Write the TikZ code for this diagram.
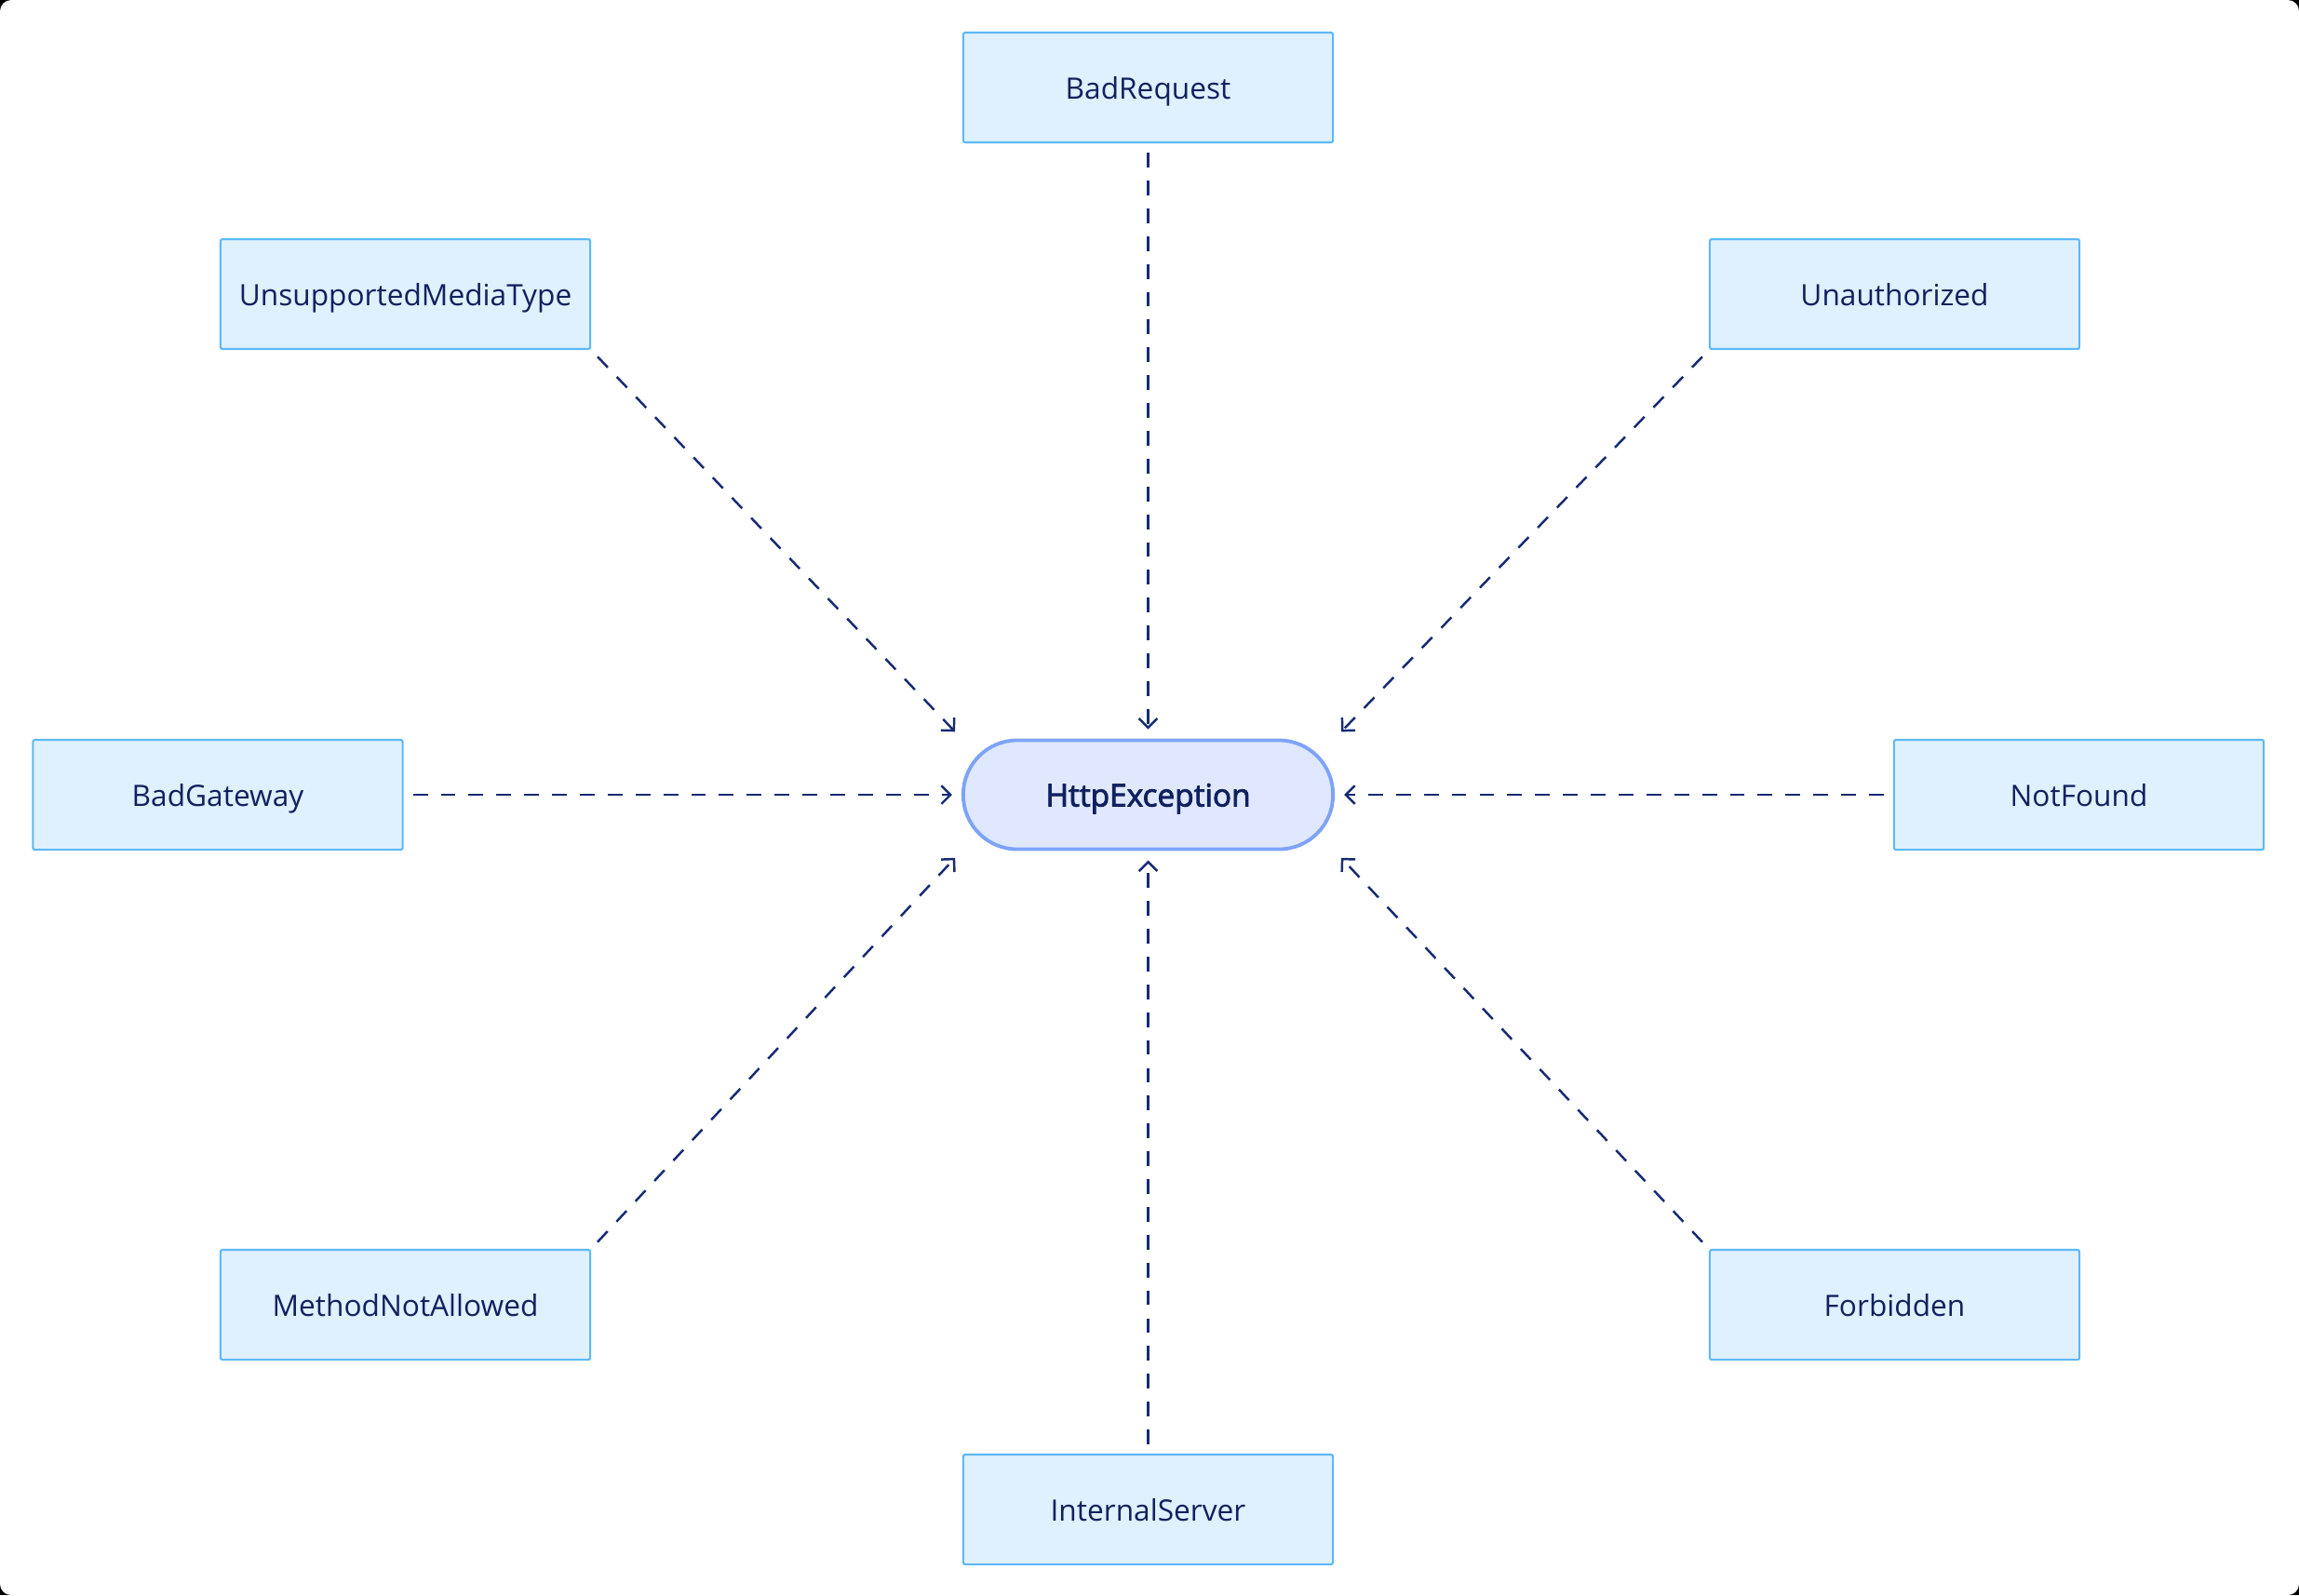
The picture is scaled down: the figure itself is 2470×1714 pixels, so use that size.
\documentclass[tikz,border=0pt]{standalone}
\usepackage{fontspec}
\setmainfont{Open Sans}
\newfontfamily\mediumfont[FakeBold=2.6]{Open Sans}
\usetikzlibrary{arrows.meta}
\definecolor{boxfill}{HTML}{DFF0FE}
\definecolor{boxline}{HTML}{5DB9F6}
\definecolor{basefill}{HTML}{E0E8FF}
\definecolor{baseline}{HTML}{7EA3F7}
\definecolor{navy}{HTML}{10215F}
\definecolor{arrowcol}{HTML}{172A73}
\tikzset{
	subexc/.style={draw=boxline, fill=boxfill, line width=0.6pt, rounded corners=0.6pt,
		minimum width=3.97cm, minimum height=1.18cm, text=navy, text height=0.71em, text depth=0pt,
		font=\fontsize{9}{11}\selectfont},
	baseexc/.style={draw=baseline, fill=basefill, line width=1.1pt, rounded corners=0.58cm,
		minimum width=3.97cm, minimum height=1.17cm, text=navy, text height=0.71em, text depth=0pt,
		font=\fontsize{9.5}{11}\selectfont\mediumfont},
	inherits/.style={draw=arrowcol, line width=0.7pt, dash pattern=on 4.5pt off 4pt,
		-{Straight Barb[length=2.8pt, width=5.6pt]}, shorten <=0.1cm, shorten >=0.1cm}
}
\begin{document}
\begin{tikzpicture}[x=0.01cm, y=-0.01cm]
	\fill[black] (0,0) rectangle (2470,1714); % keret
	\fill[white, rounded corners=0.12cm] (0,0) rectangle (2470,1714);
	% alap osztaly
	\node[baseexc] (http) at (1233.5,854) {HttpException};
	% leszarmazottak
	\node[subexc] (badreq) at (1233.5,94) {BadRequest};
	\node[subexc] (unauth) at (2035.5,316) {Unauthorized};
	\node[subexc] (notfound) at (2233.5,854) {NotFound};
	\node[subexc] (forbid) at (2035.5,1402) {Forbidden};
	\node[subexc] (internal) at (1233.5,1622) {InternalServer};
	\node[subexc] (method) at (435.5,1402) {MethodNotAllowed};
	\node[subexc] (badgw) at (234,854) {BadGateway};
	\node[subexc] (media) at (435.5,316) {UnsupportedMediaType};
	% nyilak
	\draw[inherits] (badreq) -- (http);
	\draw[inherits] (unauth.south west) -- (http.north east);
	\draw[inherits] (notfound) -- (http);
	\draw[inherits] (forbid.north west) -- (http.south east);
	\draw[inherits] (internal) -- (http);
	\draw[inherits] (method.north east) -- (http.south west);
	\draw[inherits] (badgw) -- (http);
	\draw[inherits] (media.south east) -- (http.north west);
\end{tikzpicture}
\end{document}
